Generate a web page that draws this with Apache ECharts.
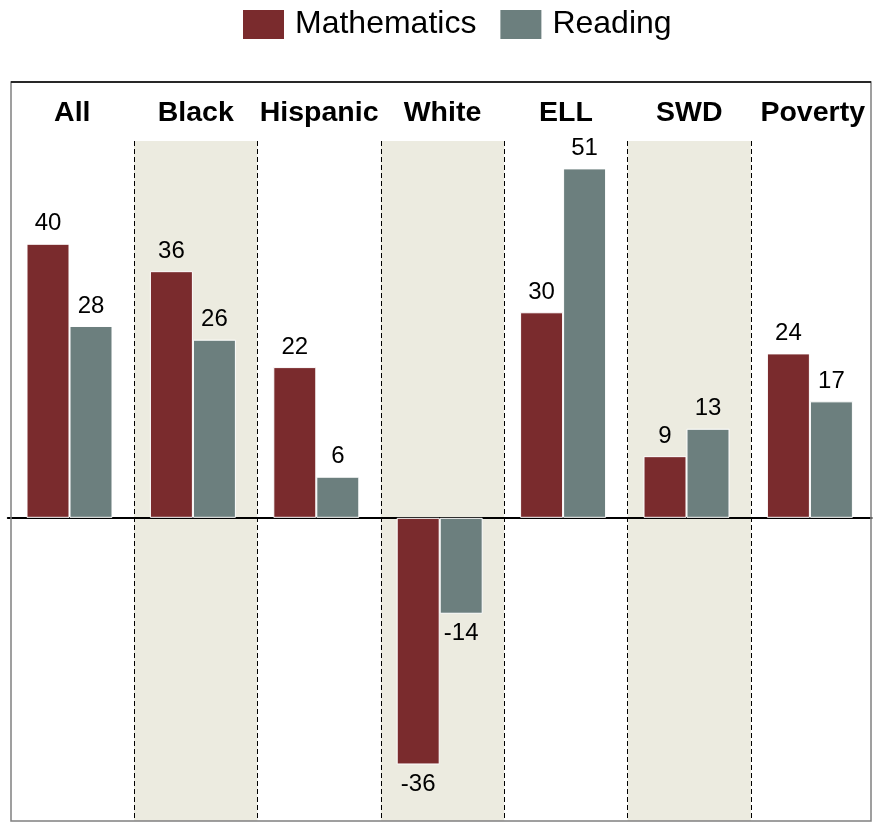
<!DOCTYPE html>
<html>
<head>
<meta charset="utf-8">
<script src="https://cdn.jsdelivr.net/npm/echarts@6/dist/echarts.min.js"></script>
<style>
  html, body { margin: 0; padding: 0; background: #fff; }
  #chart { width: 875px; height: 822px; }
</style>
</head>
<body>
<div id="chart"></div>
<script>
// groups along the x axis
const groups = ["All", "Black", "Hispanic", "White", "ELL", "SWD", "Poverty"];
// series values
const mathValues = [40, 36, 22, -36, 30, 9, 24];
const readingValues = [28, 26, 6, -14, 51, 13, 17];

const FONT = "'Liberation Sans', Arial, sans-serif";
const MATH_COLOR = "#7a2b2d";
const READ_COLOR = "#6c7f7e";
const SHADE = "#ecebe0";

// labels above positive bars, below negative ones
function withLabels(values) {
  return values.map(function (v) {
    return {
      value: v,
      label: { position: v < 0 ? "bottom" : "top" },
    };
  });
}

const chart = echarts.init(document.getElementById("chart"));
chart.setOption({
  animation: false,
  legend: {
    left: 241,
    top: 8,
    padding: 0,
    itemWidth: 43,
    itemHeight: 31,
    itemGap: 22,
    icon: "rect",
    textStyle: {
      fontFamily: FONT,
      fontSize: 32,
      color: "#000",
      padding: [5, 0, 0, 5],
    },
    data: ["Mathematics", "Reading"],
  },
  grid: [
    // background: group labels, dashed separators, shaded bands
    { left: 10.6, top: 141, width: 863.8, height: 680 },
    // bars (sit a little left of the group centres, like the original)
    { left: 7.8, top: 141, width: 863.8, height: 680 },
  ],
  xAxis: [
    {
      gridIndex: 0,
      type: "category",
      position: "top",
      data: groups,
      axisLine: { show: false },
      axisTick: { show: false },
      axisLabel: {
        interval: 0,
        margin: 13,
        fontFamily: FONT,
        fontSize: 28.5,
        fontWeight: "bold",
        color: "#000",
      },
      splitLine: {
        show: true,
        interval: 0,
        showMinLine: false,
        showMaxLine: false,
        lineStyle: { color: "#000", type: [5, 3], width: 1 },
      },
      splitArea: {
        show: true,
        interval: 0,
        areaStyle: { color: ["rgba(0,0,0,0)", SHADE] },
      },
    },
    {
      gridIndex: 1,
      type: "category",
      data: groups,
      axisLine: {
        show: true,
        onZero: true,
        lineStyle: { color: "#000", width: 2 },
      },
      axisTick: { show: false },
      axisLabel: { show: false },
      splitLine: { show: false },
    },
  ],
  yAxis: [
    { gridIndex: 0, type: "value", min: -44.25, max: 55, show: false },
    { gridIndex: 1, type: "value", min: -44.25, max: 55, show: false },
  ],
  series: [
    {
      name: "Mathematics",
      type: "bar",
      xAxisIndex: 1,
      yAxisIndex: 1,
      barWidth: 43,
      barGap: "0%",
      data: withLabels(mathValues),
      itemStyle: { color: MATH_COLOR, borderColor: "#fff", borderWidth: 1 },
      label: {
        show: true,
        distance: 8,
        fontFamily: FONT,
        fontSize: 24,
        color: "#000",
      },
    },
    {
      name: "Reading",
      type: "bar",
      xAxisIndex: 1,
      yAxisIndex: 1,
      barWidth: 43,
      data: withLabels(readingValues),
      itemStyle: { color: READ_COLOR, borderColor: "#fff", borderWidth: 1 },
      label: {
        show: true,
        distance: 8,
        fontFamily: FONT,
        fontSize: 24,
        color: "#000",
      },
    },
  ],
  graphic: [
    {
      type: "rect",
      z: 100,
      shape: { x: 11, y: 82, width: 860, height: 739 },
      style: { fill: "none", stroke: "#808080", lineWidth: 1.5 },
    },
    {
      type: "line",
      z: 101,
      shape: { x1: 11, y1: 82, x2: 871, y2: 82 },
      style: { stroke: "#000", lineWidth: 1.5 },
    },
  ],
});
</script>
</body>
</html>
